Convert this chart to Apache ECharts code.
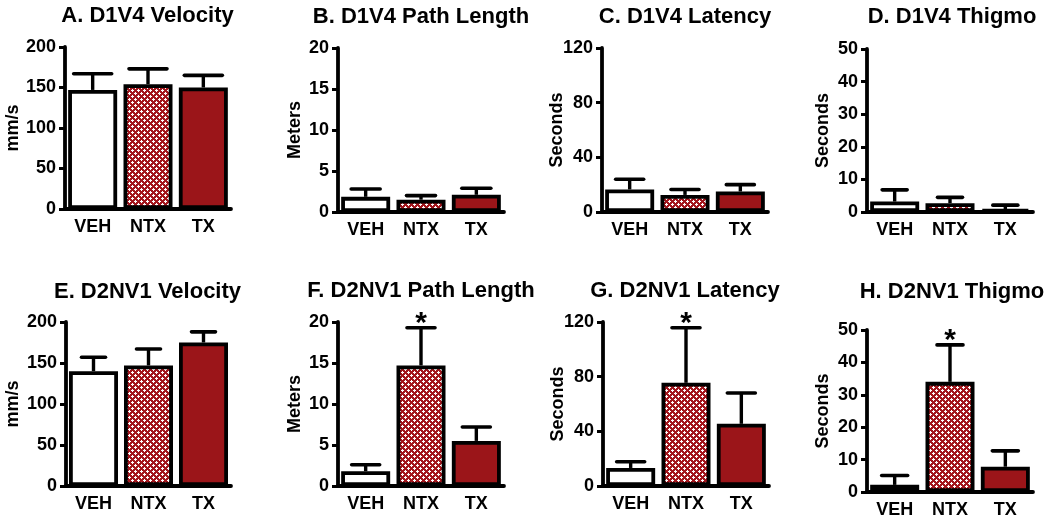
<!DOCTYPE html>
<html><head><meta charset="utf-8">
<script src="https://cdn.jsdelivr.net/npm/echarts@6/dist/echarts.min.js"></script>
<style>html,body{margin:0;padding:0;background:#fff}#c{width:1050px;height:519px}</style>
</head><body><div id="c"></div><script>
// ---------- data ----------
const categories = ['VEH', 'NTX', 'TX'];
const panelTitles = ['A. D1V4 Velocity', 'B. D1V4 Path Length', 'C. D1V4 Latency', 'D. D1V4 Thigmo',
                     'E. D2NV1 Velocity', 'F. D2NV1 Path Length', 'G. D2NV1 Latency', 'H. D2NV1 Thigmo'];
const yAxisNames = ['mm/s', 'Meters', 'Seconds', 'Seconds', 'mm/s', 'Meters', 'Seconds', 'Seconds'];
const yMaxes = [200, 20, 120, 50, 200, 20, 120, 50];
const yIntervals = [50, 5, 40, 10, 50, 5, 40, 10];

const meanA = [147, 154, 150];   const upperA = [167, 173, 165];
const meanB = [1.85, 1.5, 2.1];  const upperB = [2.8, 2.0, 2.9];
const meanC = [16.5, 12.5, 15];  const upperC = [24, 16.5, 20];
const meanD = [3.2, 2.7, 0.9];   const upperD = [6.8, 4.5, 2.1];
const meanE = [140, 147, 175];   const upperE = [157, 167, 188];
const meanF = [1.8, 14.7, 5.5];  const upperF = [2.6, 19.3, 7.2];
const meanG = [13.2, 75.5, 45.5]; const upperG = [17.7, 115.8, 68];
const meanH = [2.2, 34, 7.8];    const upperH = [5.1, 45.4, 12.7];
const significant = [[], [], [], [], [], ['NTX'], ['NTX'], ['NTX']];

const means = [meanA, meanB, meanC, meanD, meanE, meanF, meanG, meanH];
const uppers = [upperA, upperB, upperC, upperD, upperE, upperF, upperG, upperH];

// ---------- layout / style ----------
const FONT = '"Liberation Sans", Arial, sans-serif';
const grids = [
  {left: 65, top: 47, width: 166, height: 162},
  {left: 338, top: 48, width: 166, height: 164},
  {left: 602, top: 48, width: 166, height: 164},
  {left: 867, top: 49, width: 166, height: 163},
  {left: 66, top: 322, width: 165, height: 164},
  {left: 338, top: 322, width: 166, height: 164},
  {left: 603, top: 322, width: 166, height: 164},
  {left: 867, top: 330, width: 166, height: 164}
];
const titleCenters = [[147.5, 17], [421, 18], [685, 18], [952, 18], [147.5, 293], [421, 292], [685, 292], [952, 293]];
const nameGaps = [43, 34, 36, 35, 44, 34, 36, 35];
const capWidths = [38, 29, 28, 25, 24, 28, 28, 26];

const RED = '#9b1519';
function makeHatch() {
  const c = document.createElement('canvas');
  c.width = 6; c.height = 6;
  const g = c.getContext('2d');
  g.fillStyle = '#a3161d'; g.fillRect(0, 0, 6, 6);
  g.fillStyle = '#ffffff';
  g.fillRect(3, 2, 1, 3); g.fillRect(2, 3, 3, 1);
  g.fillRect(0, 0, 1, 2); g.fillRect(0, 5, 1, 1);
  g.fillRect(5, 0, 1, 1); g.fillRect(1, 0, 1, 1);
  return c;
}
const hatch = makeHatch();
const fills = {VEH: '#ffffff', NTX: {image: hatch, repeat: 'repeat'}, TX: RED};

const option = {
  animation: false,
  backgroundColor: '#ffffff',
  title: [], grid: [], xAxis: [], yAxis: [], series: []
};

for (let i = 0; i < 8; i++) {
  option.title.push({
    text: panelTitles[i], left: titleCenters[i][0], top: titleCenters[i][1] - 12,
    textAlign: 'center', padding: 0,
    textStyle: {fontFamily: FONT, fontWeight: 'bold', fontSize: 22, color: '#000'}
  });
  option.grid.push(Object.assign({containLabel: false}, grids[i]));
  option.xAxis.push({
    type: 'category', gridIndex: i, data: categories,
    axisLine: {lineStyle: {color: '#000', width: 3.8}},
    axisTick: {show: false},
    axisLabel: {color: '#000', fontFamily: FONT, fontWeight: 'bold', fontSize: 18, margin: 9}
  });
  option.yAxis.push({
    type: 'value', gridIndex: i, min: 0, max: yMaxes[i], interval: yIntervals[i],
    name: yAxisNames[i], nameLocation: 'middle', nameGap: nameGaps[i], nameRotate: 90,
    nameMoveOverlap: false,
    nameTextStyle: {color: '#000', fontFamily: FONT, fontWeight: 'bold', fontSize: 18},
    axisLine: {show: true, lineStyle: {color: '#000', width: 3.8}},
    axisTick: {show: true, length: 6, lineStyle: {color: '#000', width: 3}},
    splitLine: {show: false},
    axisLabel: {color: '#000', fontFamily: FONT, fontWeight: 'bold', fontSize: 18, margin: 9}
  });
  const m = means[i], u = uppers[i], sig = significant[i], cap = capWidths[i];
  option.series.push({
    type: 'custom', xAxisIndex: i, yAxisIndex: i, z: 1,
    data: categories.map((c, k) => [c, m[k], u[k], sig.indexOf(c) >= 0 ? 1 : 0]),
    renderItem: function (params, api) {
      const x = api.value(0);
      const p0 = api.coord([x, api.value(1)]);
      const p1 = api.coord([x, api.value(2)]);
      const h = cap / 2;
      const children = [
        {type: 'line', shape: {x1: p0[0], y1: p0[1], x2: p1[0], y2: p1[1]},
         style: {stroke: '#000', lineWidth: 3.4}},
        {type: 'line', shape: {x1: p1[0] - h, y1: p1[1], x2: p1[0] + h, y2: p1[1]},
         style: {stroke: '#000', lineWidth: 3.6, lineCap: 'round'}}
      ];
      if (api.value(3)) {
        children.push({type: 'text', x: p1[0], y: p1[1] + 11,
          style: {text: '*', fill: '#000', fontFamily: FONT, fontWeight: 'bold', fontSize: 30,
                  align: 'center', verticalAlign: 'bottom'}});
      }
      return {type: 'group', children: children};
    }
  });
  option.series.push({
    type: 'bar', xAxisIndex: i, yAxisIndex: i, z: 2, barWidth: 49,
    data: categories.map((c, k) => ({value: m[k], itemStyle: {color: fills[c]}})),
    itemStyle: {borderColor: '#000', borderWidth: 3.8}
  });
}

const chart = echarts.init(document.getElementById('c'), null, {renderer: 'canvas'});
chart.setOption(option);
</script></body></html>
